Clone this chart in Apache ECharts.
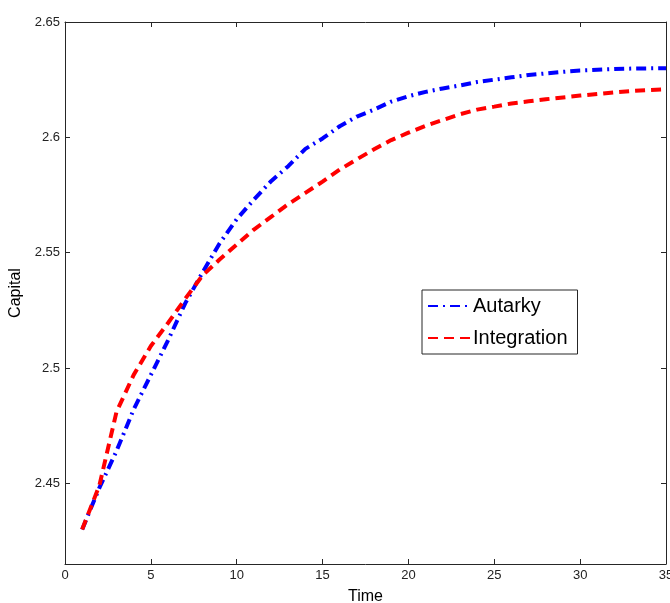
<!DOCTYPE html>
<html>
<head>
<meta charset="utf-8">
<script src="https://cdn.jsdelivr.net/npm/echarts@6/dist/echarts.min.js"></script>
<style>
html,body{margin:0;padding:0;background:#fff;}
#chart{width:670px;height:603px;}
</style>
</head>
<body>
<div id="chart"></div>
<script>
var time = [1,2,3,4,5,6,7,8,9,10,11,12,13,14,15,16,17,18,19,20,21,22,23,24,25,26,27,28,29,30,31,32,33,34,35];
var autarky = [2.430,2.448,2.464,2.482,2.497,2.512,2.528,2.5413,2.554,2.5645,2.573,2.581,2.5875,2.595,2.5995,2.6048,2.609,2.612,2.6155,2.6178,2.6197,2.6212,2.6225,2.624,2.625,2.626,2.627,2.6277,2.6284,2.629,2.6293,2.6296,2.6298,2.6299,2.630];
var integration = [2.430,2.449,2.481,2.497,2.5095,2.5195,2.530,2.540,2.547,2.5535,2.560,2.5655,2.571,2.5759,2.5808,2.586,2.5905,2.5948,2.5988,2.602,2.605,2.6075,2.610,2.612,2.6133,2.6147,2.6156,2.6165,2.6173,2.6181,2.6188,2.6195,2.6201,2.6205,2.6208];
var yTicks = [2.45,2.5,2.55,2.6,2.65];
var yMin = 2.415, yMax = 2.65;
var xMin = 0, xMax = 35, xStep = 5;

var chart = echarts.init(document.getElementById('chart'), null, {renderer:'canvas'});
function pairs(xs, ys){ return xs.map(function(x,i){return [x, ys[i]];}); }
var axisColor = '#262626';
var font = 'Liberation Sans, Arial, sans-serif';
chart.setOption({
  animation:false,
  backgroundColor:'#fff',
  grid:{left:65,top:22,right:4,bottom:39,containLabel:false,outerBoundsMode:'none'},
  legend:{
    left:422, top:290,
    orient:'vertical',
    itemWidth:44, itemHeight:10, itemGap:12,
    padding:[6,10,6,5],
    borderColor:'#262626', borderWidth:1,
    backgroundColor:'#fff',
    itemStyle:{opacity:0},
    textStyle:{fontFamily:font, fontSize:20, color:'#000', padding:[0,0,0,-4]},
    data:['Autarky','Integration']
  },
  xAxis:[{
    type:'value', min:xMin, max:xMax, interval:xStep, position:'bottom',
    name:'Time', nameLocation:'middle', nameGap:25,
    nameTextStyle:{fontFamily:font, fontSize:16, color:'#000'},
    axisLine:{show:true, lineStyle:{color:axisColor, width:1}},
    axisTick:{show:true, inside:true, length:5, lineStyle:{color:axisColor}},
    axisLabel:{fontFamily:font, fontSize:13, color:'#222', margin:5},
    splitLine:{show:false}
  },{
    type:'value', min:xMin, max:xMax, interval:xStep, position:'top',
    axisLine:{show:true, onZero:false, lineStyle:{color:axisColor, width:1}},
    axisTick:{show:true, inside:true, length:5, lineStyle:{color:axisColor}},
    axisLabel:{show:false}, splitLine:{show:false}
  }],
  yAxis:[{
    type:'value', min:yMin, max:yMax, position:'left',
    name:'Capital', nameLocation:'middle', nameGap:38, nameRotate:90,
    nameTextStyle:{fontFamily:font, fontSize:16, color:'#000'},
    axisLine:{show:true, onZero:false, lineStyle:{color:axisColor, width:1}},
    axisTick:{show:true, inside:true, length:5, customValues:yTicks, lineStyle:{color:axisColor}},
    axisLabel:{fontFamily:font, fontSize:13, color:'#222', margin:5, customValues:yTicks,
      formatter:function(v){return String(+v.toFixed(2));}},
    splitLine:{show:false}
  },{
    type:'value', min:yMin, max:yMax, position:'right',
    axisLine:{show:true, onZero:false, lineStyle:{color:axisColor, width:1}},
    axisTick:{show:true, inside:true, length:5, customValues:yTicks, lineStyle:{color:axisColor}},
    axisLabel:{show:false}, splitLine:{show:false}
  }],
  series:[{
    name:'Autarky', type:'line', data:pairs(time, autarky),
    symbol:'none', smooth:false,
    lineStyle:{color:'#0000ff', width:4, type:[10,5,2,5]},
    itemStyle:{color:'#0000ff'}
  },{
    name:'Integration', type:'line', data:pairs(time, integration),
    symbol:'none', smooth:false,
    lineStyle:{color:'#ff0000', width:4, type:[10,6]},
    itemStyle:{color:'#ff0000'}
  }]
});
</script>
</body>
</html>
